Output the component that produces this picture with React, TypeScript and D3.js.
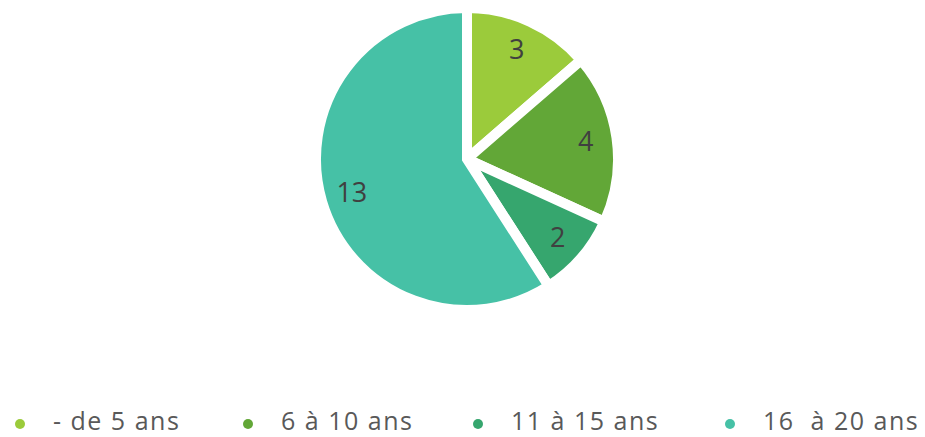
import React from "react";
import * as d3 from "d3";

const categories = ["- de 5 ans", "6 à 10 ans", "11 à 15 ans", "16  à 20 ans"];
const values = [3, 4, 2, 13];
const colors = ["#9BCB3B", "#62A737", "#36A66E", "#46C1A6"];

const W = 925;
const H = 437;
const cx = 467;
const cy = 159;
const outerR = 151;
const gap = 10;
const labelR = 120;
const legendX = [20, 248, 478, 730];
const legendBaseline = 430;

export default function App() {
  const pie = d3.pie<number>().sort(null).value((d) => d);
  const arcs = pie(values);
  const arc = d3.arc<d3.PieArcDatum<number>>().innerRadius(0).outerRadius(outerR);
  const labelArc = d3.arc<d3.PieArcDatum<number>>().innerRadius(labelR).outerRadius(labelR);

  return (
    <svg
      width={W}
      height={H}
      style={{ position: "absolute", left: 0, top: 0, background: "#fff" }}
      fontFamily="'Open Sans', Lato, sans-serif"
    >
      <g transform={`translate(${cx},${cy})`}>
        {arcs.map((a, i) => (
          <path key={i} d={arc(a) || ""} fill={colors[i]} stroke="#fff" strokeWidth={gap} strokeLinejoin="miter" />
        ))}
        {arcs.map((a, i) => {
          const [x, y] = labelArc.centroid(a);
          return (
            <text key={i} x={x} y={y + 9.5} textAnchor="middle" fontSize={27} fill="#404040">
              {values[i]}
            </text>
          );
        })}
      </g>
      <g>
        {categories.map((c, i) => (
          <g key={i} transform={`translate(${legendX[i]},0)`}>
            <circle r={5} cx={0} cy={424} fill={colors[i]} />
            <text x={33} y={legendBaseline} fontSize={25} letterSpacing={1.5} fill="#595959" style={{ whiteSpace: "pre" }}>
              {c}
            </text>
          </g>
        ))}
      </g>
    </svg>
  );
}
